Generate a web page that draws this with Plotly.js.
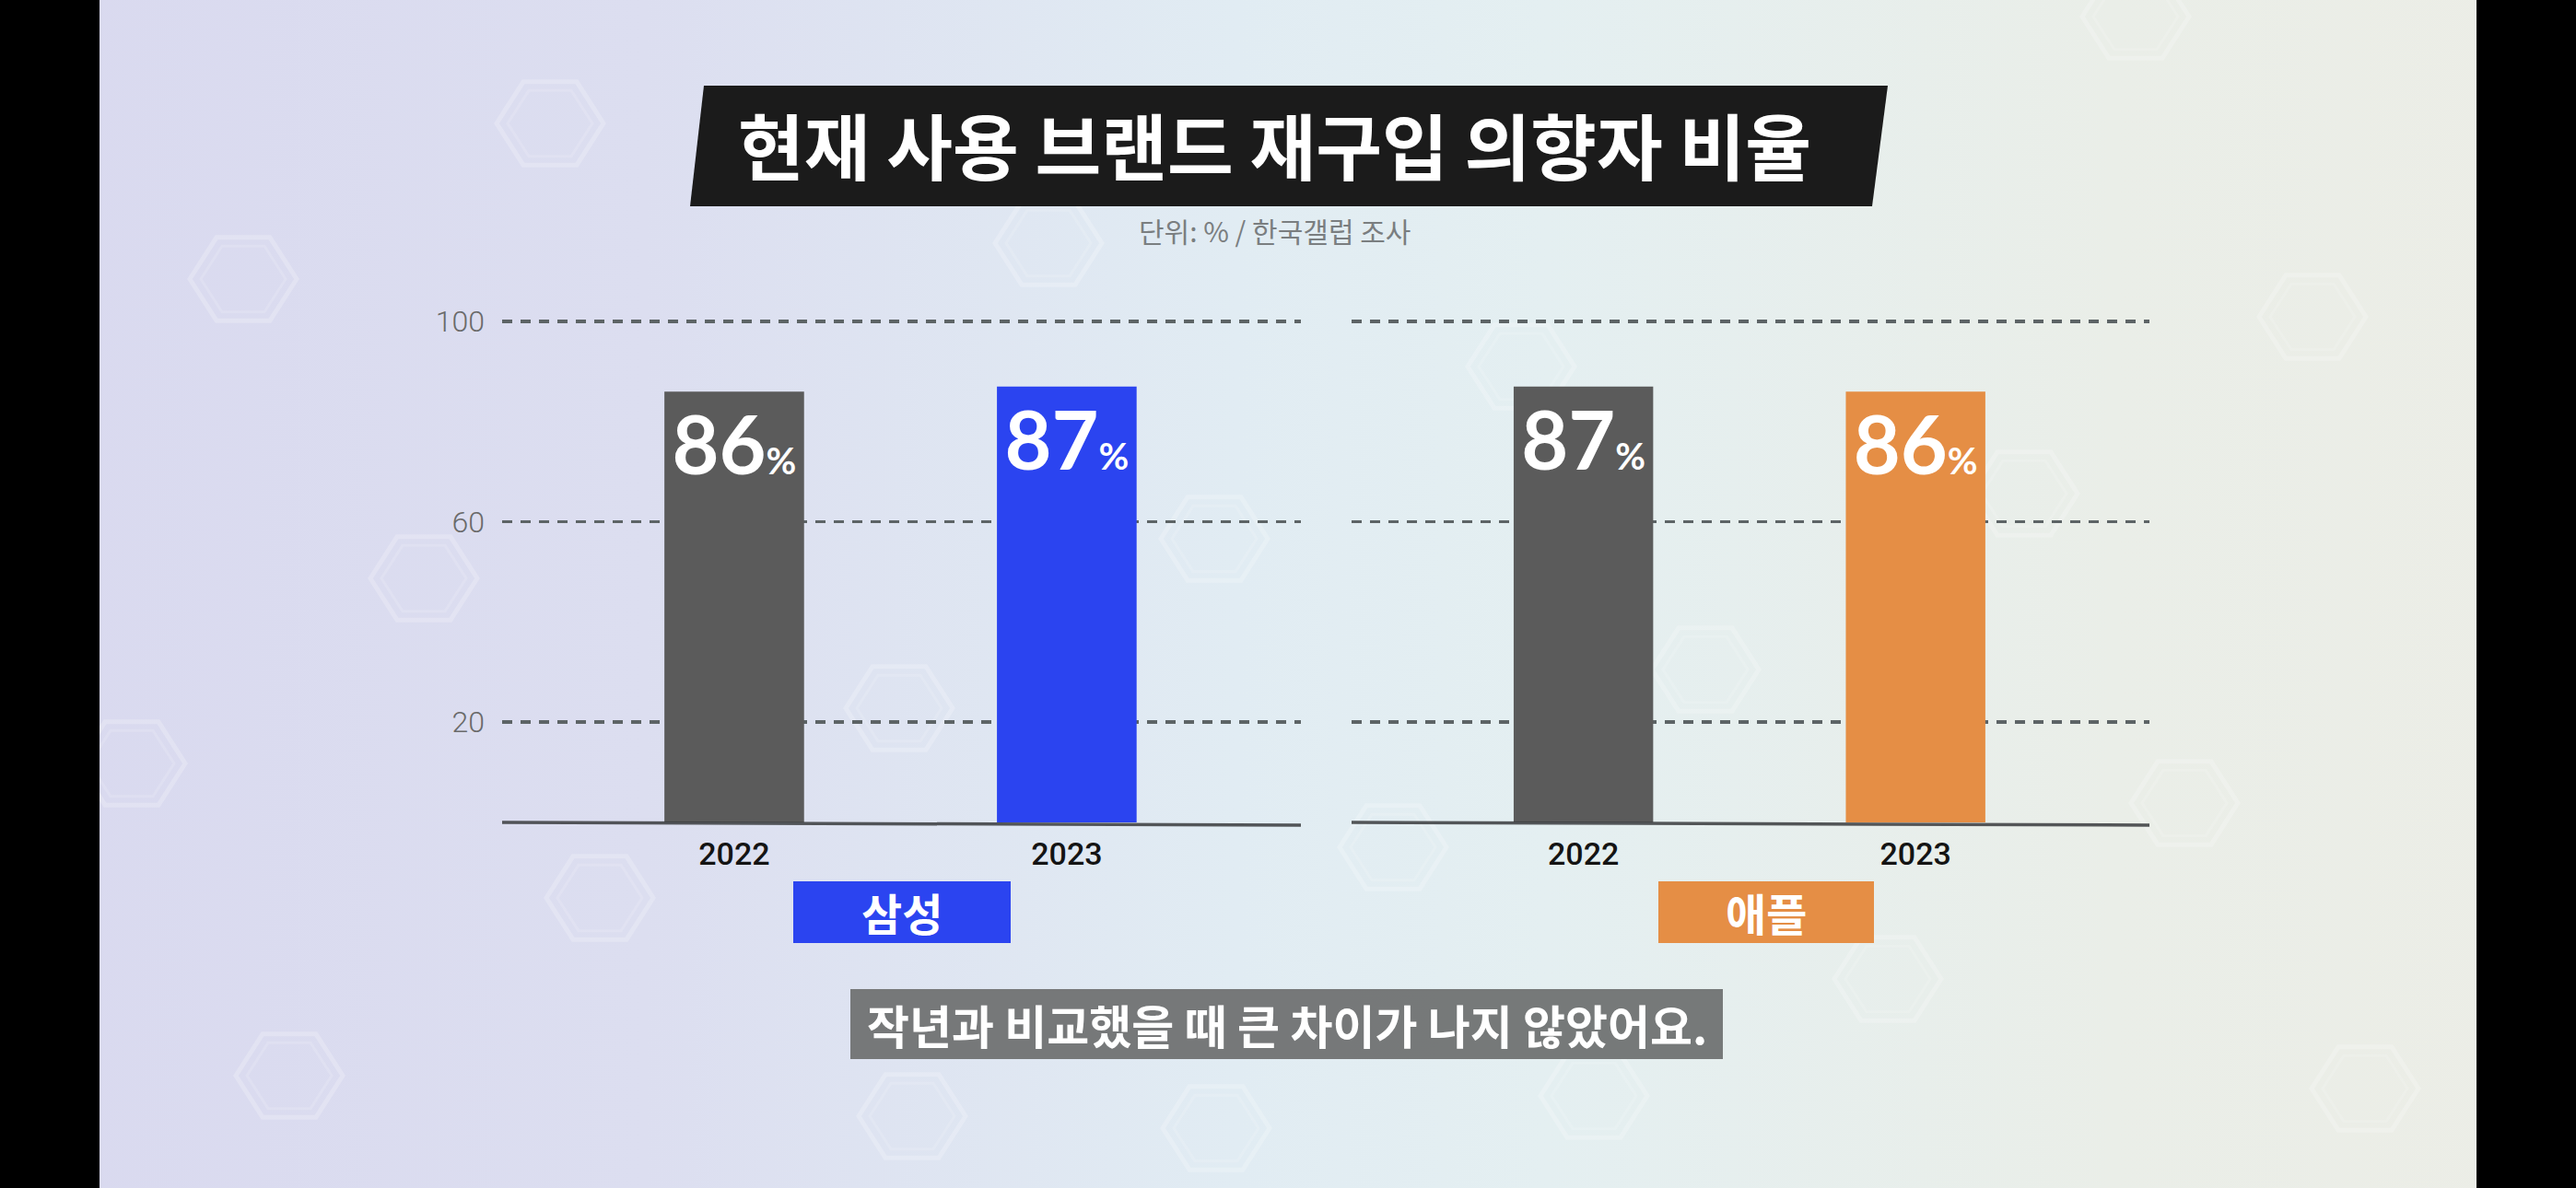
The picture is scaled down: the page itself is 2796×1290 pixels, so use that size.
<!DOCTYPE html>
<html>
<head>
<meta charset="utf-8">
<script src="https://cdn.plot.ly/plotly-3.0.1.min.js"></script>
<style>
  html, body { margin: 0; padding: 0; width: 2796px; height: 1290px; overflow: hidden; }
  body { background: linear-gradient(90deg, #d9d9ef 0%, #dcdef0 25%, #e1ecf3 48%, #e4eff1 60%, #eaeee8 82%, #ecede6 100%); }
  #chart { width: 2796px; height: 1290px; }
</style>
</head>
<body>
<div id="chart"></div>
<script>
// ---- data ----
const years = ['2022', '2023'];
const samsungValues = [86, 87];
const appleValues = [87, 86];
const brandNames = ['삼성', '애플'];
const yTickValues = [20, 60, 100];
const titleText = '현재 사용 브랜드 재구입 의향자 비율';
const subtitleText = '단위: % / 한국갤럽 조사';
const captionText = '작년과 비교했을 때 큰 차이가 나지 않았어요.';

// ---- styling ----
const W = 2796, H = 1290;
const px = x => x / W;
const py = y => 1 - y / H;
const GRAY = '#5b5b5b', BLUE = '#2b44f0', ORANGE = '#e58e45';
const CJK = '"Noto Sans CJK KR", "Noto Sans", sans-serif';
const NUM = 'Lato, Roboto, sans-serif';

// y mapping: value 0 at 893px, 100 at 349px
const k = (893 - 349) / 100;
const yDomain = [py(893 + 1 * k), py(349 - 1 * k)];
const yRange = [-1, 101];

const pctLabel = v => v + '<span style="font-size:40px">%</span>';
const barCommon = {
  type: 'bar', width: 0.42, hoverinfo: 'none',
  textposition: 'inside', insidetextanchor: 'end', constraintext: 'none',
  textangle: 0, textfont: { family: NUM, size: 88, color: '#ffffff', weight: 700 }
};
const traces = [
  Object.assign({}, barCommon, { x: years, y: samsungValues, xaxis: 'x', yaxis: 'y',
    text: samsungValues.map(pctLabel), marker: { color: [GRAY, BLUE] } }),
  Object.assign({}, barCommon, { x: years, y: appleValues, xaxis: 'x2', yaxis: 'y2',
    text: appleValues.map(pctLabel), marker: { color: [GRAY, ORANGE] } })
];

const xCommon = {
  type: 'category', range: [-0.698, 1.704], showgrid: false, zeroline: false,
  showline: false, ticks: '', ticklabelstandoff: 6,
  tickfont: { family: 'Roboto, sans-serif', size: 34, color: '#141414', weight: 500 }
};
const yCommon = {
  range: yRange, domain: yDomain, tickvals: yTickValues, showgrid: true,
  gridcolor: '#5d6466', gridwidth: 3.5, griddash: '11px,9px', zeroline: false,
  showline: false, ticks: ''
};

// hexagon watermark helper
function hexPath(cx, cy, r) {
  let d = '';
  for (let i = 0; i < 6; i++) {
    const a = Math.PI / 3 * i;
    const x = cx + r * Math.cos(a), y = cy + r * Math.sin(a) * 0.9;
    d += (i === 0 ? 'M ' : ' L ') + px(x).toFixed(5) + ',' + py(y).toFixed(5);
  }
  return d + ' Z';
}
const hexCenters = [[597,134],[264,303],[460,628],[143,829],[651,975],[314,1168],[1138,264],
  [976,769],[1318,585],[1512,920],[1730,1190],[1851,727],[2197,536],[1651,398],[2049,1063],
  [2371,872],[2510,344],[2567,1182],[2318,18],[990,1212],[1320,1225]];
const shapes = [];
hexCenters.forEach(([cx, cy]) => {
  shapes.push({ type: 'path', xref: 'paper', yref: 'paper', path: hexPath(cx, cy, 58),
    line: { color: 'rgba(255,255,255,0.22)', width: 5 }, layer: 'below' });
  shapes.push({ type: 'path', xref: 'paper', yref: 'paper', path: hexPath(cx, cy, 46),
    line: { color: 'rgba(255,255,255,0.14)', width: 3 }, layer: 'below' });
});

// black side bars
shapes.push({ type: 'rect', xref: 'paper', yref: 'paper', x0: 0, x1: px(108), y0: 0, y1: 1,
  fillcolor: '#000', line: { width: 0 } });
shapes.push({ type: 'rect', xref: 'paper', yref: 'paper', x0: px(2688), x1: 1, y0: 0, y1: 1,
  fillcolor: '#000', line: { width: 0 } });
// title box (slanted)
shapes.push({ type: 'path', xref: 'paper', yref: 'paper',
  path: `M ${px(764)},${py(93)} L ${px(2049)},${py(93)} L ${px(2032)},${py(224)} L ${px(749)},${py(224)} Z`,
  fillcolor: '#1b1b1b', line: { width: 0 } });
// baselines
['x', 'x2'].forEach((xa, i) => {
  shapes.push({ type: 'line', xref: xa + ' domain', yref: i === 0 ? 'y' : 'y2',
    x0: 0, x1: 1, y0: 0, y1: -0.55, line: { color: 'rgba(62,64,66,0.88)', width: 3.5 }, layer: 'above' });
});
// brand label boxes
const brandBoxes = [[861, 1097, BLUE], [1800, 2034, ORANGE]];
brandBoxes.forEach(([x0, x1, c]) => {
  shapes.push({ type: 'rect', xref: 'paper', yref: 'paper', x0: px(x0), x1: px(x1),
    y0: py(1024), y1: py(957), fillcolor: c, line: { width: 0 } });
});
// caption box
shapes.push({ type: 'rect', xref: 'paper', yref: 'paper', x0: px(923), x1: px(1870),
  y0: py(1150), y1: py(1074), fillcolor: 'rgba(112,114,114,0.95)', line: { width: 0 } });

const annotations = [];
annotations.push({ xref: 'paper', yref: 'paper', x: px(1383), y: py(156), xanchor: 'center', yanchor: 'middle',
  showarrow: false, text: titleText, font: { family: CJK, size: 78, color: '#ffffff', weight: 700 } });
annotations.push({ xref: 'paper', yref: 'paper', x: px(1383), y: py(250), xanchor: 'center', yanchor: 'middle',
  showarrow: false, text: subtitleText, font: { family: CJK, size: 30, color: '#7a7e80' } });
const brandCenters = [979, 1917];
brandNames.forEach((b, i) => {
  annotations.push({ xref: 'paper', yref: 'paper', x: px(brandCenters[i]), y: py(990), xanchor: 'center', yanchor: 'middle',
    showarrow: false, text: b, font: { family: CJK, size: 48, color: '#ffffff', weight: 700 } });
});
annotations.push({ xref: 'paper', yref: 'paper', x: px(1397), y: py(1112), xanchor: 'center', yanchor: 'middle',
  showarrow: false, text: captionText, font: { family: CJK, size: 50, color: '#ffffff', weight: 700 } });

const layout = {
  width: W, height: H, margin: { l: 0, r: 0, t: 0, b: 0 },
  paper_bgcolor: 'rgba(0,0,0,0)', plot_bgcolor: 'rgba(0,0,0,0)', showlegend: false,
  xaxis: Object.assign({}, xCommon, { domain: [px(545), px(1412)], anchor: 'y' }),
  xaxis2: Object.assign({}, xCommon, { domain: [px(1467), px(2333)], anchor: 'y2' }),
  yaxis: Object.assign({}, yCommon, { anchor: 'x', showticklabels: true, ticklabelstandoff: 18,
    tickfont: { family: 'Roboto, sans-serif', size: 32, color: '#6a6a6a', weight: 300 } }),
  yaxis2: Object.assign({}, yCommon, { anchor: 'x2', showticklabels: false }),
  shapes: shapes, annotations: annotations
};

Plotly.newPlot('chart', traces, layout, { staticPlot: true, displayModeBar: false });
</script>
</body>
</html>
